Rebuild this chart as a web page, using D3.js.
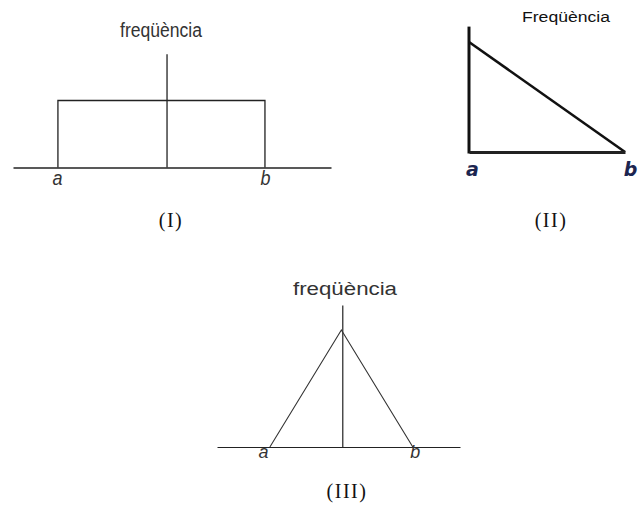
<!DOCTYPE html>
<html>
<head>
<meta charset="utf-8">
<script src="https://cdn.jsdelivr.net/npm/d3@7"></script>
<style>
  body { margin: 0; background: #fff; }
  svg { display: block; }
  .axis .domain { stroke: #222; }
  .axis .tick line { display: none; }
</style>
</head>
<body>
<svg id="chart" width="643" height="508"></svg>
<script>
// end points of each distribution, in units where a = 0, b = 1
const endLabels = ['a', 'b'];
const endValues = [0, 1];

// (I) uniform
const uniformX = [0, 0, 1, 1];
const uniformY = [0, 1, 1, 0];

// (II) decreasing triangle
const decreasingX = [0, 1];
const decreasingY = [1, 0];

// (III) symmetric triangle
const triangleX = [0, 0.5, 1];
const triangleY = [0, 1, 0];

const panelTitles = ['(I)', '(II)', '(III)'];
const yLabels = ['freqüència', 'Freqüència', 'freqüència'];

const svg = d3.select('#chart');

const line = (xs, ys, x, y) => d3.line()
    .x(i => x(xs[i]))
    .y(i => y(ys[i]))(d3.range(xs.length));

function panelTitle(g, x, y, text) {
  g.append('text')
      .attr('x', x).attr('y', y)
      .attr('text-anchor', 'middle')
      .attr('font-family', 'Liberation Serif, Times New Roman, serif')
      .attr('font-size', 20)
      .attr('letter-spacing', 1.5)
      .attr('fill', '#111')
      .text(text);
}

// ---------- panel I ----------
{
  const x = d3.scaleLinear().domain([-0.217, 1.319]).range([13, 331]);
  const y = d3.scaleLinear().domain([0, 1]).range([167.5, 100.5]);
  const g = svg.append('g');

  g.append('line')
      .attr('x1', x(0.527)).attr('x2', x(0.527))
      .attr('y1', y(0)).attr('y2', y(1.69))
      .attr('stroke', '#222').attr('stroke-width', 1.3);

  g.append('path')
      .attr('d', line(uniformX, uniformY, x, y))
      .attr('fill', 'none').attr('stroke', '#222').attr('stroke-width', 1.3);

  const axis = d3.axisBottom(x)
      .tickValues(endValues)
      .tickFormat((d, i) => endLabels[i])
      .tickSize(0)
      .tickSizeOuter(0)
      .tickPadding(3);

  const ax = g.append('g')
      .attr('class', 'axis')
      .attr('transform', `translate(0,${y(0)})`)
      .call(axis);
  ax.select('.domain').attr('stroke-width', 1.3);
  ax.selectAll('text')
      .attr('font-family', 'Liberation Sans, Arial, sans-serif')
      .attr('font-style', 'italic')
      .attr('font-size', 20)
      .attr('fill', '#333')
      .attr('textLength', 10)
      .attr('lengthAdjust', 'spacingAndGlyphs');
  ax.selectAll('.tick').filter((d, i) => i === 0).select('text').attr('x', -1);

  g.append('text')
      .attr('x', 161).attr('y', 37)
      .attr('text-anchor', 'middle')
      .attr('font-family', 'Liberation Sans, Arial, sans-serif')
      .attr('font-size', 20)
      .attr('fill', '#333')
      .attr('textLength', 82)
      .attr('lengthAdjust', 'spacingAndGlyphs')
      .text(yLabels[0]);

  panelTitle(g, 171, 227, panelTitles[0]);
}

// ---------- panel II ----------
{
  const x = d3.scaleLinear().domain([0, 1]).range([469, 625]);
  const y = d3.scaleLinear().domain([0, 1]).range([152, 42]);
  const g = svg.append('g');

  g.append('line')
      .attr('x1', x(0)).attr('x2', x(0))
      .attr('y1', y(0) + 1.5).attr('y2', y(1.14))
      .attr('stroke', '#111').attr('stroke-width', 3);

  g.append('path')
      .attr('d', line(decreasingX, decreasingY, x, y))
      .attr('fill', 'none').attr('stroke', '#111').attr('stroke-width', 2.6);

  const axis = d3.axisBottom(x)
      .tickValues(endValues)
      .tickFormat((d, i) => endLabels[i])
      .tickSize(0)
      .tickSizeOuter(0)
      .tickPadding(11);

  const ax = g.append('g')
      .attr('class', 'axis')
      .attr('transform', `translate(0,${y(0)})`)
      .call(axis);
  ax.select('.domain').attr('stroke', '#111').attr('stroke-width', 3);
  ax.selectAll('text')
      .attr('font-family', 'DejaVu Sans, sans-serif')
      .attr('font-style', 'italic')
      .attr('font-weight', 'bold')
      .attr('font-size', 19)
      .attr('fill', '#1c2550');
  ax.selectAll('.tick').filter((d, i) => i === 0).select('text').attr('x', 3);
  ax.selectAll('.tick').filter((d, i) => i === 1).select('text').attr('x', 5);

  g.append('text')
      .attr('x', 566).attr('y', 22)
      .attr('text-anchor', 'middle')
      .attr('font-family', 'Liberation Sans, Arial, sans-serif')
      .attr('font-size', 14)
      .attr('fill', '#111')
      .attr('textLength', 88)
      .attr('lengthAdjust', 'spacingAndGlyphs')
      .text(yLabels[1]);

  panelTitle(g, 551, 227, panelTitles[1]);
}

// ---------- panel III ----------
{
  const x = d3.scaleLinear().domain([-0.37, 1.33]).range([217, 460]);
  const y = d3.scaleLinear().domain([0, 1]).range([447, 330]);
  const g = svg.append('g');

  g.append('line')
      .attr('x1', x(0.51)).attr('x2', x(0.51))
      .attr('y1', y(0)).attr('y2', y(1.21))
      .attr('stroke', '#222').attr('stroke-width', 1.2);

  g.append('path')
      .attr('d', line(triangleX, triangleY, x, y))
      .attr('fill', 'none').attr('stroke', '#333').attr('stroke-width', 1.1);

  const axis = d3.axisBottom(x)
      .tickValues(endValues)
      .tickFormat((d, i) => endLabels[i])
      .tickSize(0)
      .tickSizeOuter(0)
      .tickPadding(-2);

  const ax = g.append('g')
      .attr('class', 'axis')
      .attr('transform', `translate(0,${y(0)})`)
      .call(axis);
  ax.select('.domain').attr('stroke-width', 1.2);
  ax.selectAll('text')
      .attr('font-family', 'Liberation Sans, Arial, sans-serif')
      .attr('font-style', 'italic')
      .attr('font-size', 18)
      .attr('fill', '#333')
      .attr('textLength', 10)
      .attr('lengthAdjust', 'spacingAndGlyphs');
  ax.selectAll('.tick').filter((d, i) => i === 0).select('text').attr('x', -7);
  ax.selectAll('.tick').filter((d, i) => i === 1).select('text').attr('x', 2);

  g.append('text')
      .attr('x', 345).attr('y', 295)
      .attr('text-anchor', 'middle')
      .attr('font-family', 'Liberation Sans, Arial, sans-serif')
      .attr('font-size', 18)
      .attr('fill', '#333')
      .attr('textLength', 104)
      .attr('lengthAdjust', 'spacingAndGlyphs')
      .text(yLabels[2]);

  panelTitle(g, 347, 498, panelTitles[2]);
}
</script>
</body>
</html>
